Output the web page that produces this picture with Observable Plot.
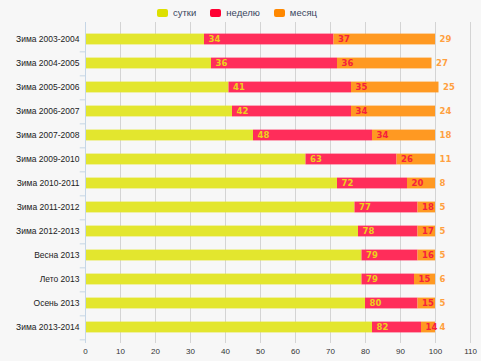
<!DOCTYPE html>
<html><head><meta charset="utf-8">
<script src="https://cdn.jsdelivr.net/npm/d3@7"></script>
<script src="https://cdn.jsdelivr.net/npm/@observablehq/plot@0.6"></script>
<style>
body{margin:0;background:#f7f7f7;width:481px;height:361px;overflow:hidden;font-family:"Liberation Sans",Arial,sans-serif;}
#legend{height:22px;display:flex;align-items:center;padding-left:157px;padding-top:3px;box-sizing:border-box;font-size:9.5px;color:#3a4660;}
#legend .it{display:flex;align-items:center;margin-right:14px;}
#legend .sw{width:11px;height:8px;border-radius:2px;margin-right:5px;}
#chart svg{display:block;}
</style></head>
<body>
<div id="legend"></div>
<div id="chart"></div>
<script>
const categories = ["Зима 2003-2004","Зима 2004-2005","Зима 2005-2006","Зима 2006-2007","Зима 2007-2008","Зима 2009-2010","Зима 2010-2011","Зима 2011-2012","Зима 2012-2013","Весна 2013","Лето 2013","Осень 2013","Зима 2013-2014"];
const series = ["сутки","неделю","месяц"];
const sutki  = [34,36,41,42,48,63,72,77,78,79,79,80,82];
const nedelu = [37,36,35,34,34,26,20,18,17,16,15,15,14];
const mesyac = [29,27,25,24,18,11,8,5,5,5,6,5,4];
const xTicks = [0,10,20,30,40,50,60,70,80,90,100,110];

const barColor = {"сутки":"#e3e62e","неделю":"#ff2d5a","месяц":"#ff9922"};
const swatchColor = {"сутки":"#dde000","неделю":"#ff0033","месяц":"#ff8800"};
const labelColor = {"сутки":"#ecd21c","неделю":"#f5203c","месяц":"#ffa040"};

const values = [sutki, nedelu, mesyac];
const data = [];
categories.forEach((c,i)=>series.forEach((s,j)=>data.push({cat:c, series:s, value:values[j][i]})));

const leg = document.getElementById("legend");
series.forEach(s=>{
  const it=document.createElement("div");it.className="it";
  it.innerHTML=`<div class="sw" style="background:${swatchColor[s]}"></div><span>${s}</span>`;
  leg.appendChild(it);
});

const H = 339, mT = 0, mB = 18;
const step = (H - mT - mB) / categories.length;

const chart = Plot.plot({
  width: 481, height: H,
  marginLeft: 85, marginRight: 11, marginTop: mT, marginBottom: mB,
  style: {background: "transparent", fontFamily: "Liberation Sans, Arial, sans-serif"},
  x: {domain: [0,110], ticks: xTicks, label: null},
  y: {domain: categories, padding: 0, label: null},
  color: {type: "identity"},
  marks: [
    Plot.gridX(xTicks, {stroke: "#d4d4d4", strokeOpacity: 1}),
    Plot.barX(data, Plot.stackX({x: "value", y: "cat", z: "series", order: series, fill: d => barColor[d.series], insetTop: 6.6, insetBottom: 6.6})),
    Plot.textX(data, Plot.stackX2({x: "value", y: "cat", z: "series", order: series, text: "value", fill: d => labelColor[d.series], textAnchor: "start", dx: 4, fontSize: 8.5, fontWeight: "bold", fontFamily: "DejaVu Sans, sans-serif"})),
    Plot.ruleX([0], {stroke: "#c6d6e6"}),
    Plot.ruleY(categories, {y: d => d, x1: -1.5, x2: 0, dy: step/2, stroke: "#c6d6e6", clip: false}),
    Plot.axisX(xTicks, {tickSize: 0, tickPadding: 5, fontSize: 8, fill: "#333"}),
    Plot.axisY({tickSize: 0, tickPadding: 6, fontSize: 8.5, fill: "#222"})
  ]
});
document.getElementById("chart").appendChild(chart);
</script>
</body></html>
